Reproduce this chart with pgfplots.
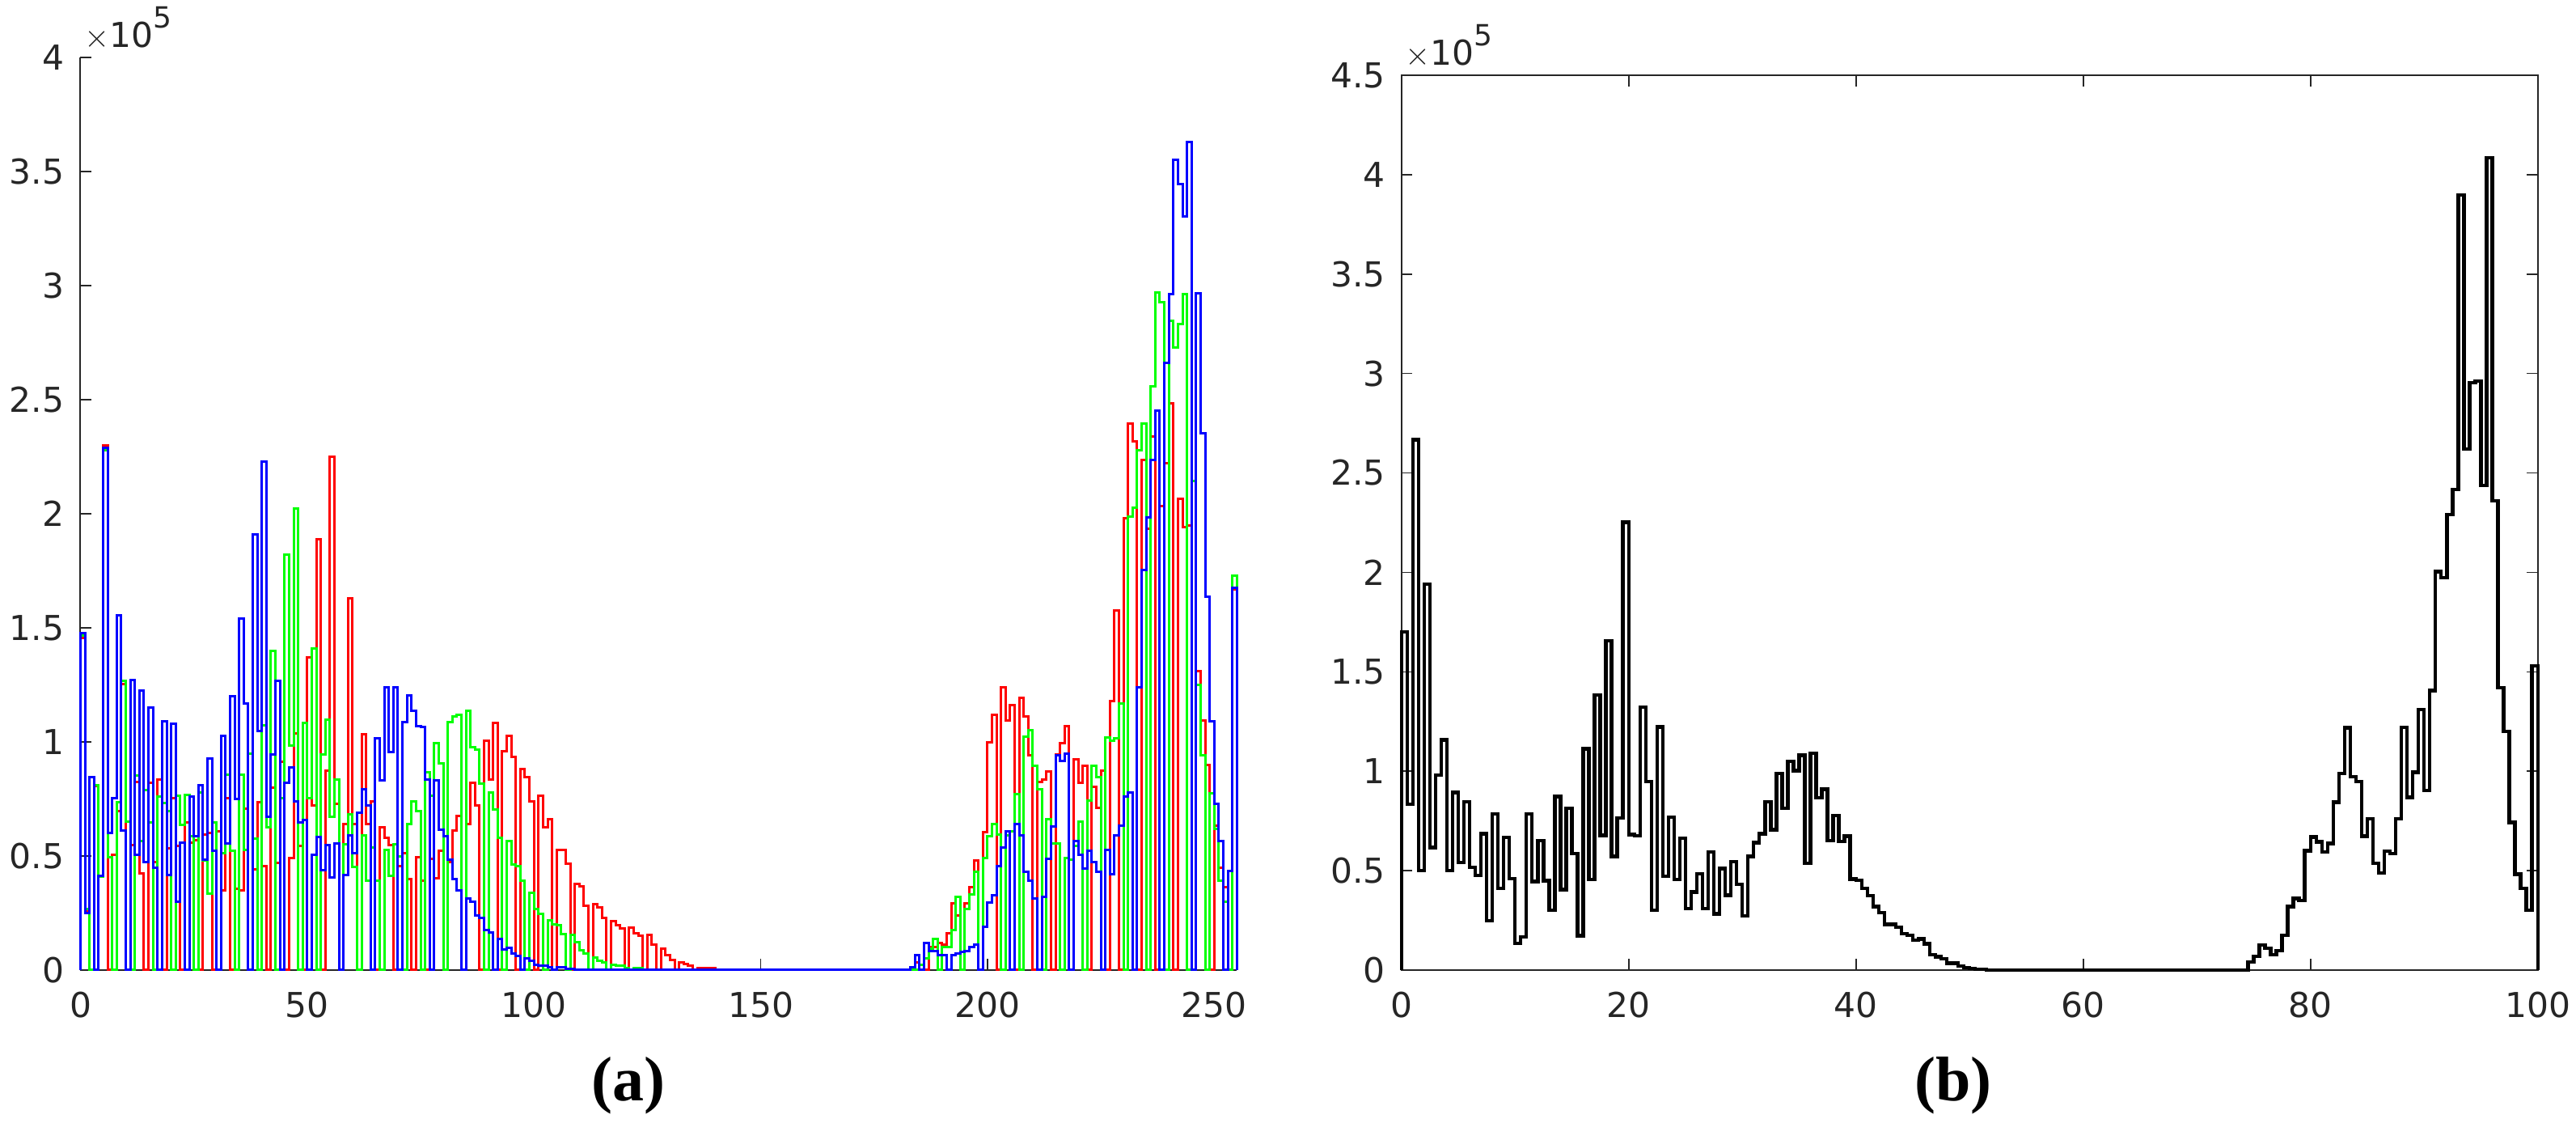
\documentclass[border=0pt]{standalone}
\usepackage{fontspec}
\setmainfont{DejaVu Sans}
\newfontfamily\capfont{Liberation Serif}
\usepackage{pgfplots}
\pgfplotsset{compat=1.18}
\definecolor{axc}{gray}{0.15}
\pgfplotsset{common/.style={
  scale only axis, clip=false, tick align=inside, major tick length=3.4pt,
  axis line style={axc,line width=0.5pt}, tick style={axc,line width=0.4pt},
  tick label style={text=axc,font=\fontsize{10.6}{12}\selectfont},
  xticklabel style={yshift=-3.2pt}, yticklabel style={xshift=-1.5pt},
  scaled ticks=false, ymin=0
}}
\newcommand{\expo}{\textcolor{axc}{$\times$\fontsize{10.6}{12}\selectfont 10\raisebox{1.05ex}{\fontsize{9}{10}\selectfont 5}}}
\begin{document}
\begin{tikzpicture}
\path[use as bounding box] (0,0) rectangle (796.25pt,347pt);
\begin{axis}[common, at={(24.875pt,47.25pt)}, anchor=south west, width=357.45pt, height=282pt,
  xmin=0, xmax=255, ymax=4, axis x line*=bottom, axis y line*=left,
  xtick={0,50,100,150,200,250}, xticklabels={0,50,100,150,200,250},
  ytick={0,0.5,1,1.5,2,2.5,3,3.5,4}, yticklabels={0,0.5,1,1.5,2,2.5,3,3.5,4}]
\addplot[const plot, draw=red, line width=0.75pt] table[header=false, row sep=\\, x expr={min(max(\coordindex-1,0),255)}, y index=0] {
0\\
1.456\\0.26\\0\\0.806\\0.41\\2.30\\0\\0.505\\0.696\\1.253\\
0\\0.548\\0.824\\0.422\\0\\0.82\\0.473\\0.836\\0\\0.532\\
0.755\\0.544\\0\\0.647\\0.56\\0.57\\0\\0.593\\0.6\\0\\
0.609\\0.348\\0.755\\0\\0.355\\0.348\\0.708\\0\\0.441\\0.737\\
0.454\\0\\0.798\\0.469\\0.913\\0\\0.49\\1.037\\0.544\\0\\
1.371\\0.723\\1.889\\0\\0.875\\2.25\\0.727\\0\\0.641\\1.631\\
0.641\\0\\1.033\\0.641\\0.741\\0\\0.627\\0.578\\0.548\\0\\
0.454\\0.511\\0.398\\0\\0.495\\0.392\\0\\0.489\\0.402\\0.522\\
0\\0.475\\0.613\\0.676\\0\\0.641\\0.821\\0.723\\0\\1.005\\
0.836\\1.082\\0\\0.96\\1.027\\0.933\\0\\0.881\\0.845\\0.741\\
0\\0.765\\0.626\\0.66\\0\\0.526\\0.526\\0.465\\0\\0.376\\
0.366\\0.281\\0\\0.29\\0.275\\0.227\\0\\0.213\\0.195\\0.183\\
0\\0.187\\0.162\\0.15\\0\\0.154\\0.112\\0\\0.095\\0.065\\
0.044\\0\\0.035\\0.026\\0.018\\0\\0.008\\0.008\\0.008\\0.008\\
0\\0\\0\\0\\0\\0\\0\\0\\0\\0\\
0\\0\\0\\0\\0\\0\\0\\0\\0\\0\\
0\\0\\0\\0\\0\\0\\0\\0\\0\\0\\
0\\0\\0\\0\\0\\0\\0\\0\\0\\0\\
0\\0\\0\\0\\0.032\\0\\0\\0.10\\0.10\\0.117\\
0.111\\0.162\\0.292\\0.241\\0\\0.292\\0.363\\0.481\\0\\0.605\\
0.999\\1.119\\0\\1.238\\1.093\\1.161\\0\\1.194\\1.113\\0.942\\
0\\0.824\\0.835\\0.869\\0\\0.946\\0.993\\1.07\\0\\0.924\\
0.82\\0.897\\0\\0.803\\0.712\\0.873\\0\\1.18\\1.575\\0\\
1.981\\2.396\\2.318\\0\\2.236\\1.935\\2.339\\0\\2.035\\2.221\\
2.484\\0\\2.065\\1.94\\1.95\\0\\1.31\\1.095\\0.90\\0\\
0.632\\0.448\\0.362\\0\\1.67\\
1.67\\0\\
};
\addplot[const plot, draw=green, line width=0.75pt] table[header=false, row sep=\\, x expr={min(max(\coordindex-1,0),255)}, y index=0] {
0\\
1.465\\0.268\\0\\0.81\\0.408\\2.28\\0.493\\0\\0.734\\1.267\\
0.652\\0\\0.853\\0.566\\0.79\\0.647\\0\\0.761\\0.733\\0.696\\
0\\0.765\\0.635\\0.767\\0.587\\0\\0.777\\0.481\\0.336\\0.647\\
0\\0.511\\0.857\\0.522\\0\\0.857\\0.526\\0.949\\0.576\\0\\
1.072\\0.625\\1.40\\0\\0.755\\1.82\\0.983\\2.024\\0\\1.082\\
0.755\\1.411\\0\\0.946\\1.096\\0.673\\0.836\\0\\0.552\\0.682\\
0.452\\0\\0.59\\0.392\\0.538\\0.392\\0\\0.525\\0.413\\0.552\\
0.499\\0\\0.641\\0.741\\0.696\\0\\0.868\\0.765\\0.993\\0.907\\
0\\1.086\\1.113\\1.119\\0\\1.135\\0.978\\0.966\\0.818\\0\\
0.777\\0.703\\0.579\\0\\0.566\\0.463\\0.457\\0.39\\0\\0.339\\
0.266\\0.248\\0\\0.219\\0.199\\0.195\\0.157\\0\\0.154\\0.124\\
0.086\\0.071\\0\\0.056\\0.041\\0.032\\0\\0.024\\0.018\\0.018\\
0.009\\0\\0.008\\0.008\\0\\0\\0\\0\\0\\0\\
0\\0\\0\\0\\0\\0\\0\\0\\0\\0\\
0\\0\\0\\0\\0\\0\\0\\0\\0\\0\\
0\\0\\0\\0\\0\\0\\0\\0\\0\\0\\
0\\0\\0\\0\\0\\0\\0\\0\\0\\0\\
0\\0\\0\\0\\0\\0\\0\\0\\0\\0\\
0\\0\\0\\0\\0\\0.022\\0.052\\0.095\\0.138\\0\\
0.10\\0.10\\0.176\\0.322\\0\\0.268\\0.33\\0.431\\0\\0.49\\
0.587\\0.641\\0.593\\0\\0.59\\0.609\\0.771\\0\\1.022\\1.053\\
0.895\\0.794\\0\\0.662\\0.556\\0.556\\0\\0.49\\0.485\\0.544\\
0.652\\0\\0.743\\0.897\\0.847\\0\\1.02\\1.007\\1.015\\1.169\\
0\\1.988\\2.026\\2.28\\2.397\\0\\2.56\\2.969\\2.928\\0\\
2.844\\2.729\\2.833\\2.963\\0\\2.145\\1.25\\0.94\\0\\0.775\\
0.62\\0.39\\0.30\\0\\1.73\\
1.73\\0\\
};
\addplot[const plot, draw=blue, line width=0.75pt] table[header=false, row sep=\\, x expr={min(max(\coordindex-1,0),255)}, y index=0] {
0\\
1.476\\0.25\\0.845\\0\\0.413\\2.29\\0.60\\0.755\\1.554\\0.613\\
0\\1.27\\0.505\\1.226\\0.473\\1.149\\0.45\\0\\1.09\\0.418\\
1.078\\0.30\\0.56\\0\\0.761\\0.587\\0.81\\0.485\\0.928\\0.522\\
0\\1.027\\0.554\\1.199\\0.75\\1.539\\1.17\\0\\1.91\\1.048\\
2.23\\0.673\\0.944\\1.268\\0\\0.82\\0.889\\0.738\\0.647\\0.658\\
0\\0.507\\0.582\\0.437\\0.548\\0.407\\0.556\\0\\0.418\\0.59\\
0.511\\0.691\\0.794\\0.721\\0\\1.015\\0.833\\1.238\\0.954\\1.238\\
0\\1.086\\1.205\\1.137\\1.069\\1.065\\0.836\\0\\0.83\\0.615\\
0.587\\0.485\\0.398\\0.349\\0\\0.313\\0.30\\0.239\\0.229\\0.174\\
0.164\\0\\0.138\\0.091\\0.096\\0.073\\0.061\\0\\0.053\\0.039\\
0.024\\0.021\\0.021\\0.012\\0\\0.012\\0.012\\0.006\\0.006\\0\\
0\\0\\0\\0\\0\\0\\0\\0\\0\\0\\
0\\0\\0\\0\\0\\0\\0\\0\\0\\0\\
0\\0\\0\\0\\0\\0\\0\\0\\0\\0\\
0\\0\\0\\0\\0\\0\\0\\0\\0\\0\\
0\\0\\0\\0\\0\\0\\0\\0\\0\\0\\
0\\0\\0\\0\\0\\0\\0\\0\\0\\0\\
0\\0\\0\\0\\0\\0\\0\\0\\0\\0\\
0\\0\\0\\0.014\\0.064\\0\\0.118\\0.085\\0.085\\0.067\\
0.067\\0\\0.067\\0.073\\0.079\\0.085\\0.10\\0.111\\0\\0.188\\
0.296\\0.327\\0.457\\0.538\\0.609\\0\\0.641\\0.59\\0.43\\0.392\\
0.313\\0\\0.322\\0.489\\0.631\\0.94\\0.918\\0.95\\0\\0.566\\
0.505\\0.446\\0.522\\0.475\\0.43\\0\\0.526\\0.42\\0.59\\0.633\\
0.76\\0.78\\0\\1.24\\1.755\\1.985\\2.236\\2.451\\0\\2.66\\
2.963\\3.552\\3.445\\3.303\\3.628\\0\\2.966\\2.354\\1.637\\1.09\\
0.727\\0.566\\0\\0.433\\1.674\\
1.674\\0\\
};
\node[anchor=base west, inner sep=0pt] at (rel axis cs:0,1) [xshift=1pt, yshift=3pt] {\expo};
\end{axis}
\begin{axis}[common, at={(433.175pt,47.25pt)}, anchor=south west, width=351.25pt, height=276.5pt,
  xmin=0, xmax=100, ymax=4.5,
  xtick={0,20,40,60,80,100}, xticklabels={0,20,40,60,80,100},
  ytick={0,0.5,1,1.5,2,2.5,3,3.5,4,4.5}, yticklabels={0,0.5,1,1.5,2,2.5,3,3.5,4,4.5}]
\addplot[const plot, draw=black, line width=1.1pt] table[header=false, row sep=\\, x expr={min(max(\coordindex-1,0),200)/2}, y index=0] {
0\\
1.70\\0.835\\2.667\\0.50\\1.94\\0.617\\0.98\\1.158\\0.50\\0.893\\
0.54\\0.845\\0.517\\0.477\\0.685\\0.247\\0.784\\0.41\\0.667\\0.46\\
0.133\\0.167\\0.784\\0.445\\0.65\\0.45\\0.30\\0.873\\0.404\\0.814\\
0.587\\0.173\\1.112\\0.455\\1.383\\0.678\\1.655\\0.571\\0.766\\2.252\\
0.682\\0.675\\1.323\\0.949\\0.302\\1.222\\0.472\\0.77\\0.455\\0.663\\
0.308\\0.392\\0.483\\0.308\\0.595\\0.283\\0.511\\0.376\\0.545\\0.432\\
0.273\\0.571\\0.64\\0.685\\0.845\\0.706\\0.989\\0.814\\1.05\\1.003\\
1.08\\0.536\\1.09\\0.866\\0.909\\0.65\\0.777\\0.646\\0.673\\0.458\\
0.452\\0.41\\0.374\\0.319\\0.289\\0.229\\0.229\\0.215\\0.182\\0.175\\
0.151\\0.156\\0.132\\0.078\\0.067\\0.058\\0.035\\0.035\\0.02\\0.012\\
0.008\\0.005\\0.005\\0\\0\\0\\0\\0\\0\\0\\
0\\0\\0\\0\\0\\0\\0\\0\\0\\0\\
0\\0\\0\\0\\0\\0\\0\\0\\0\\0\\
0\\0\\0\\0\\0\\0\\0\\0\\0\\0\\
0\\0\\0\\0\\0\\0\\0\\0\\0\\0.04\\
0.07\\0.125\\0.11\\0.078\\0.097\\0.174\\0.32\\0.36\\0.35\\0.60\\
0.67\\0.645\\0.595\\0.637\\0.844\\0.988\\1.218\\0.972\\0.947\\0.673\\
0.761\\0.537\\0.487\\0.598\\0.587\\0.761\\1.221\\0.869\\0.994\\1.31\\
0.903\\1.406\\2.004\\1.974\\2.29\\2.417\\3.898\\2.619\\2.954\\2.962\\
2.436\\4.086\\2.359\\1.42\\1.199\\0.742\\0.482\\0.41\\0.30\\1.53\\
1.53\\0\\
};
\node[anchor=base west, inner sep=0pt] at (rel axis cs:0,1) [xshift=1pt, yshift=3pt] {\expo};
\end{axis}
\node at (194.25pt,11.5pt) [font=\capfont\fontsize{19.5}{22}\selectfont\bfseries, text=black] {(a)};
\node at (603.75pt,11.5pt) [font=\capfont\fontsize{19.5}{22}\selectfont\bfseries, text=black] {(b)};
\end{tikzpicture}
\end{document}
